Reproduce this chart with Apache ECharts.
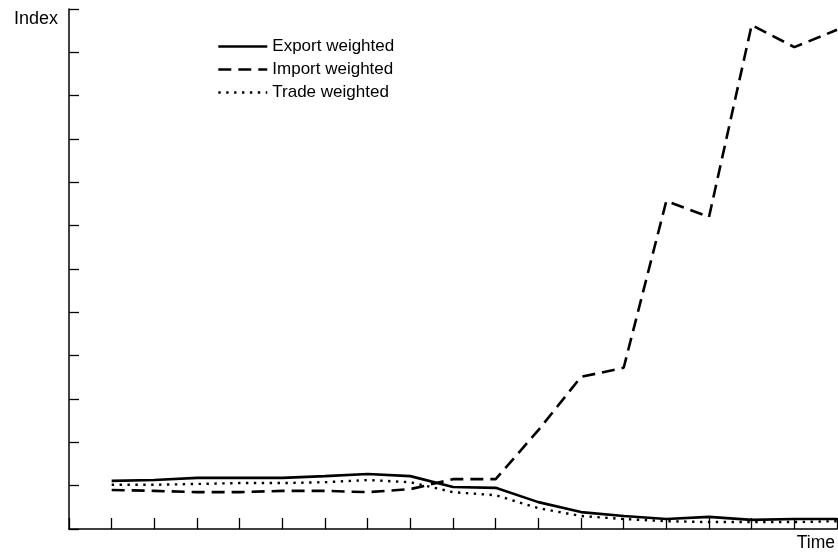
<!DOCTYPE html>
<html>
<head>
<meta charset="utf-8">
<script src="https://cdn.jsdelivr.net/npm/echarts@6/dist/echarts.min.js"></script>
<style>
html,body{margin:0;padding:0;background:#fff;}
#chart{width:838px;height:557px;}
</style>
</head>
<body>
<div id="chart"></div>
<script>
// Time periods (x positions 1..18)
const periods = [1,2,3,4,5,6,7,8,9,10,11,12,13,14,15,16,17,18];
const exportWeighted = [1.11,1.13,1.18,1.18,1.18,1.22,1.27,1.22,0.97,0.95,0.62,0.39,0.30,0.23,0.28,0.21,0.23,0.23];
const importWeighted = [0.90,0.88,0.85,0.85,0.88,0.88,0.85,0.92,1.15,1.15,2.28,3.51,3.72,7.57,7.20,11.63,11.12,11.52];
const tradeWeighted  = [1.02,1.02,1.04,1.06,1.06,1.08,1.13,1.08,0.85,0.78,0.48,0.30,0.23,0.18,0.16,0.16,0.16,0.18];
const seriesNames = ['Export weighted','Import weighted','Trade weighted'];

const pair = arr => periods.map((p,i)=>[p,arr[i]]);
const FONT = '"Liberation Sans", Arial, Helvetica, sans-serif';

const chart = echarts.init(document.getElementById('chart'), null, {renderer:'canvas'});
const common = {type:'line', symbol:'none', showSymbol:false, smooth:false, silent:true};
chart.setOption({
  animation:false,
  backgroundColor:'#fff',
  textStyle:{fontFamily:FONT, color:'#000'},
  grid:{left:69, right:1, top:9, bottom:28, containLabel:false},
  legend:{
    orient:'vertical', left:212, top:33, padding:5, itemWidth:49, itemHeight:14, itemGap:6,
    itemStyle:{opacity:0},
    lineStyle:{width:2.6},
    textStyle:{fontFamily:FONT, fontSize:17, color:'#000'},
    data:seriesNames
  },
  xAxis:{
    type:'value', min:0, max:18, interval:1,
    name:'Time', nameLocation:'end', nameGap:0,
    nameTextStyle:{fontFamily:FONT, fontSize:17.5, color:'#000', align:'right', verticalAlign:'top', padding:[5,2,0,0]},
    axisLine:{lineStyle:{color:'#000', width:1.5}},
    axisTick:{inside:true, length:11, lineStyle:{color:'#000', width:1.3}},
    axisLabel:{show:false},
    splitLine:{show:false}
  },
  yAxis:{
    type:'value', min:0, max:12, interval:1,
    name:'Index', nameLocation:'end', nameGap:-10,
    nameTextStyle:{fontFamily:FONT, fontSize:18, color:'#000', align:'right', verticalAlign:'middle', padding:[0,11,0,0]},
    axisLine:{show:true, lineStyle:{color:'#000', width:1.5}},
    axisTick:{show:true, inside:true, length:10, lineStyle:{color:'#000', width:1.3}},
    axisLabel:{show:false},
    splitLine:{show:false}
  },
  series:[
    Object.assign({}, common, {name:seriesNames[0], data:pair(exportWeighted), color:'#000',
      lineStyle:{color:'#000', width:2.6, type:'solid'}}),
    Object.assign({}, common, {name:seriesNames[1], data:pair(importWeighted), color:'#000',
      lineStyle:{color:'#000', width:2.6, type:[13,7]}}),
    Object.assign({}, common, {name:seriesNames[2], data:pair(tradeWeighted), color:'#000',
      lineStyle:{color:'#000', width:2.4, type:[2.4,5.5]}})
  ]
});
</script>
</body>
</html>
